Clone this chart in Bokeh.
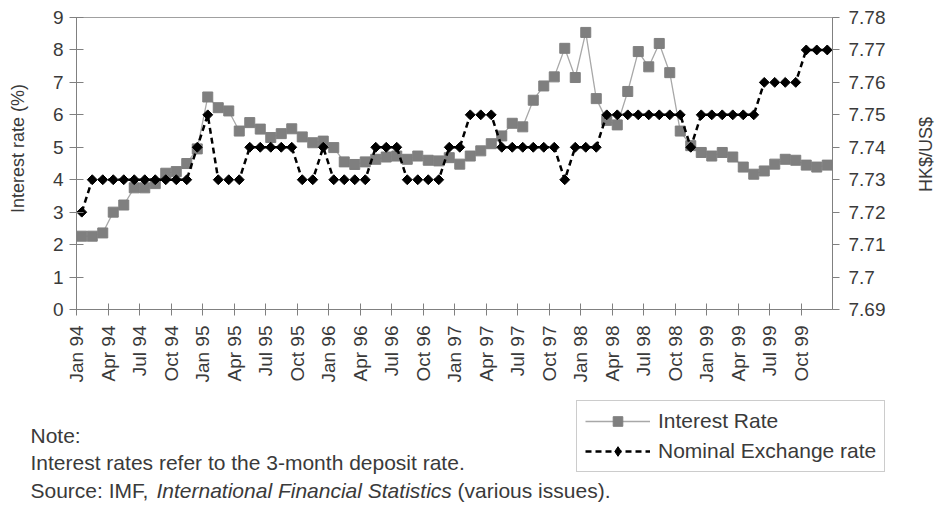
import math
from bokeh.plotting import figure
from bokeh.layouts import column, row
from bokeh.models import (Range1d, LinearAxis, FixedTicker, Legend, LegendItem,
                          Label, CustomJSTickFormatter)
from bokeh.embed import file_html
from bokeh.resources import INLINE

# ---------------- data (monthly, Jan 1994 - Dec 1999) ----------------
month_index = list(range(72))

interest_rate = [
    2.26, 2.26, 2.36, 3.00, 3.22, 3.75, 3.75, 3.88, 4.20, 4.25, 4.50, 4.95,   # 1994
    6.55, 6.22, 6.12, 5.50, 5.76, 5.56, 5.30, 5.42, 5.57, 5.32, 5.14, 5.19,   # 1995
    4.99, 4.55, 4.47, 4.55, 4.63, 4.70, 4.73, 4.63, 4.73, 4.60, 4.58, 4.68,   # 1996
    4.48, 4.73, 4.89, 5.11, 5.35, 5.74, 5.63, 6.45, 6.89, 7.17, 8.05, 7.15,   # 1997
    8.54, 6.50, 5.83, 5.69, 6.72, 7.95, 7.48, 8.20, 7.30, 5.50, 5.05, 4.84,   # 1998
    4.73, 4.84, 4.70, 4.39, 4.17, 4.27, 4.48, 4.63, 4.60, 4.45, 4.39, 4.45,   # 1999
]

exchange_rate = [
    7.72, 7.73, 7.73, 7.73, 7.73, 7.73, 7.73, 7.73, 7.73, 7.73, 7.73, 7.74,   # 1994
    7.75, 7.73, 7.73, 7.73, 7.74, 7.74, 7.74, 7.74, 7.74, 7.73, 7.73, 7.74,   # 1995
    7.73, 7.73, 7.73, 7.73, 7.74, 7.74, 7.74, 7.73, 7.73, 7.73, 7.73, 7.74,   # 1996
    7.74, 7.75, 7.75, 7.75, 7.74, 7.74, 7.74, 7.74, 7.74, 7.74, 7.73, 7.74,   # 1997
    7.74, 7.74, 7.75, 7.75, 7.75, 7.75, 7.75, 7.75, 7.75, 7.75, 7.74, 7.75,   # 1998
    7.75, 7.75, 7.75, 7.75, 7.75, 7.76, 7.76, 7.76, 7.76, 7.77, 7.77, 7.77,   # 1999
]

tick_months = list(range(0, 72, 3))
tick_labels = [
    "Jan 94", "Apr 94", "Jul 94", "Oct 94",
    "Jan 95", "Apr 95", "Jul 95", "Oct 95",
    "Jan 96", "Apr 96", "Jul 96", "Oct 96",
    "Jan 97", "Apr 97", "Jul 97", "Oct 97",
    "Jan 98", "Apr 98", "Jul 98", "Oct 98",
    "Jan 99", "Apr 99", "Jul 99", "Oct 99",
]

left_ticks = list(range(0, 10))
right_ticks = [7.69, 7.70, 7.71, 7.72, 7.73, 7.74, 7.75, 7.76, 7.77, 7.78]

# x position of each monthly point: centred between category ticks
x = [m + 0.5 for m in month_index]

FONT = "Liberation Sans"
TXT = "#3a3a3a"
AXC = "#808080"
IR_LINE = "#a8a8a8"
IR_MARK = "#7f7f7f"

W, H = 939, 512
L_W = 30            # left strip (y-axis title)
R_W = 29            # right strip (right axis title)
MID_W = W - L_W - R_W
TOP_H = 385
BOT_H = H - TOP_H


def blank(fig):
    fig.outline_line_color = None
    fig.xgrid.visible = False
    fig.ygrid.visible = False
    fig.background_fill_color = "white"
    fig.border_fill_color = "white"
    if "frame_align" in fig.properties():
        fig.frame_align = False


# ---------------- main chart ----------------
p = figure(width=MID_W, height=TOP_H, output_backend="svg", toolbar_location=None,
           x_range=Range1d(0, 72), y_range=Range1d(0, 9),
           min_border_left=76 - L_W, min_border_right=(L_W + MID_W) - 832,
           min_border_top=17, min_border_bottom=TOP_H - 309)
p.background_fill_color = "white"
p.border_fill_color = "white"
p.outline_line_color = "#a0a0a0"
p.xgrid.visible = False
p.ygrid.visible = False

p.extra_y_ranges = {"fx": Range1d(7.69, 7.78)}

ya = p.yaxis[0]
ya.ticker = FixedTicker(ticks=left_ticks)
ya.major_tick_in = 7
ya.major_tick_out = 7
ya.minor_tick_line_color = None
ya.axis_line_color = AXC
ya.major_tick_line_color = AXC
ya.major_label_text_font = FONT
ya.major_label_text_font_size = "19px"
ya.major_label_text_color = TXT
ya.major_label_standoff = 6

ra = LinearAxis(y_range_name="fx", ticker=FixedTicker(ticks=right_ticks),
                formatter=CustomJSTickFormatter(code="return String(Number(tick.toFixed(2)));"))
ra.major_tick_in = 0
ra.major_tick_out = 7
ra.minor_tick_line_color = None
ra.axis_line_color = AXC
ra.major_tick_line_color = AXC
ra.major_label_text_font = FONT
ra.major_label_text_font_size = "19px"
ra.major_label_text_color = TXT
ra.major_label_standoff = 9
p.add_layout(ra, "right")

xa = p.xaxis[0]
xa.ticker = FixedTicker(ticks=tick_months)
xa.major_label_overrides = {t: l for t, l in zip(tick_months, tick_labels)}
xa.major_label_orientation = math.pi / 2
xa.major_tick_in = 6
xa.major_tick_out = 6
xa.minor_tick_line_color = None
xa.axis_line_color = AXC
xa.major_tick_line_color = AXC
xa.major_label_text_font = FONT
xa.major_label_text_font_size = "19px"
xa.major_label_text_color = TXT
xa.major_label_standoff = 10

p.line(x, interest_rate, line_color=IR_LINE, line_width=1.3)
p.scatter(x, interest_rate, marker="square", size=10,
          fill_color=IR_MARK, line_color=IR_MARK)
p.line(x, exchange_rate, y_range_name="fx", line_color="black",
       line_width=2.5, line_dash="6 4")
p.scatter(x, exchange_rate, y_range_name="fx", marker="square",
          angle=math.pi / 4, size=7, fill_color="black", line_color="black")

# ---------------- left strip: y-axis title ----------------
lf = figure(width=L_W, height=H, output_backend="svg", toolbar_location=None,
            x_axis_type=None, y_axis_type=None, x_range=Range1d(0, L_W),
            y_range=Range1d(0, H), min_border_left=0, min_border_right=0,
            min_border_top=0, min_border_bottom=0)
blank(lf)
lf.add_layout(Label(x=17, y=H - 148, text="Interest rate (%)", angle=math.pi / 2,
                    text_align="center", text_baseline="middle",
                    text_font=FONT, text_font_size="18px", text_color=TXT))

# ---------------- right strip: right-axis title ----------------
rt = figure(width=R_W, height=H, output_backend="svg", toolbar_location=None,
            x_axis_type=None, y_axis_type=None, x_range=Range1d(0, R_W),
            y_range=Range1d(0, H), min_border_left=0, min_border_right=0,
            min_border_top=0, min_border_bottom=0)
blank(rt)
rt.add_layout(Label(x=925 - (L_W + MID_W), y=H - 154, text="HK$/US$", angle=math.pi / 2,
                    text_align="center", text_baseline="middle",
                    text_font=FONT, text_font_size="18px", text_color=TXT))

# ---------------- lower panel: notes + legend ----------------
q = figure(width=MID_W, height=BOT_H, output_backend="svg", toolbar_location=None,
           x_axis_type=None, y_axis_type=None, x_range=Range1d(0, MID_W),
           y_range=Range1d(0, BOT_H), min_border_left=0, min_border_right=0,
           min_border_top=0, min_border_bottom=0)
blank(q)
X0 = L_W   # canvas x of q's left edge

l1 = q.line([-50, -40], [-50, -50], line_color=IR_LINE, line_width=1.3)
s1 = q.scatter([-45], [-50], marker="square", size=10, fill_color=IR_MARK, line_color=IR_MARK)
l2 = q.line([-50, -40], [-50, -50], line_color="black", line_width=2.5, line_dash="6 4")
s2 = q.scatter([-45], [-50], marker="diamond", size=12,
               fill_color="black", line_color="black")

legend = Legend(items=[LegendItem(label="Interest Rate", renderers=[l1, s1]),
                       LegendItem(label="Nominal Exchange rate", renderers=[l2, s2])],
                location=(576 - X0, H - 472), margin=0, padding=8, spacing=6,
                glyph_width=65, glyph_height=24, label_height=24, label_standoff=8,
                label_text_font=FONT, label_text_font_size="21px", label_text_color=TXT,
                border_line_color="#9a9a9a", border_line_width=1,
                background_fill_color="white", background_fill_alpha=1)
q.add_layout(legend, "center")

FS = 21
def note(x_canvas, y_canvas, txt, style="normal"):
    q.add_layout(Label(x=x_canvas - X0, y=H - y_canvas, text=txt,
                       text_align="left", text_baseline="middle",
                       text_font=FONT, text_font_size=f"{FS}px",
                       text_font_style=style, text_color=TXT))

note(30, 435, "Note:")
note(30, 462, "Interest rates refer to the 3-month deposit rate.")
x1 = 30
x2 = x1 + 5.999 * FS
x3 = x2 + 14.061 * FS + 0.278 * FS
note(x1, 490, "Source: IMF,")
note(x2, 490, "International Financial Statistics", "italic")
note(x3, 490, "(various issues).")

layout = row(lf, column(p, q, spacing=0), rt, spacing=0)
open("out.html", "w").write(file_html(layout, INLINE))
